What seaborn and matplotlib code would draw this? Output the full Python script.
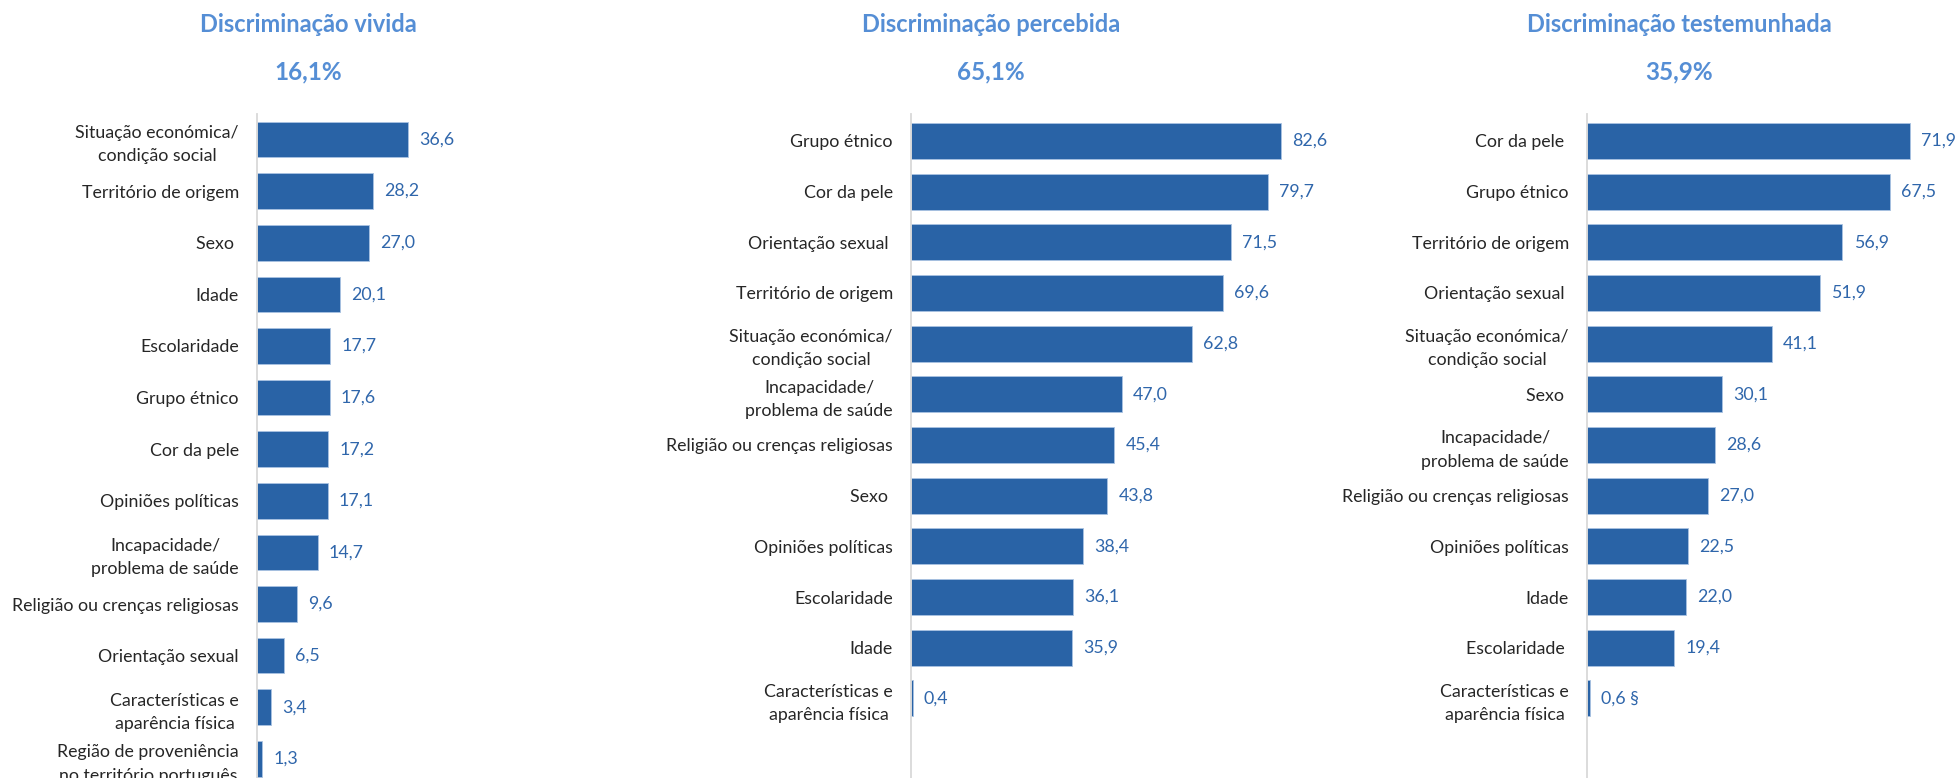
import matplotlib
matplotlib.use("Agg")
import matplotlib.pyplot as plt
import seaborn as sns
import pandas as pd

# ---------------- data ----------------
titulos = ["Discriminação vivida", "Discriminação percebida", "Discriminação testemunhada"]
totais = ["16,1%", "65,1%", "35,9%"]

cat_vivida = [
    "Situação económica/\ncondição social", "Território de origem", "Sexo ", "Idade",
    "Escolaridade", "Grupo étnico", "Cor da pele", "Opiniões políticas",
    "Incapacidade/\nproblema de saúde", "Religião ou crenças religiosas",
    "Orientação sexual", "Características e\naparência física",
    "Região de proveniência\nno território português",
]
val_vivida = [36.6, 28.2, 27.0, 20.1, 17.7, 17.6, 17.2, 17.1, 14.7, 9.6, 6.5, 3.4, 1.3]

cat_percebida = [
    "Grupo étnico", "Cor da pele", "Orientação sexual ", "Território de origem",
    "Situação económica/\ncondição social", "Incapacidade/\nproblema de saúde",
    "Religião ou crenças religiosas", "Sexo ", "Opiniões políticas", "Escolaridade",
    "Idade", "Características e\naparência física",
]
val_percebida = [82.6, 79.7, 71.5, 69.6, 62.8, 47.0, 45.4, 43.8, 38.4, 36.1, 35.9, 0.4]

cat_testemunhada = [
    "Cor da pele ", "Grupo étnico", "Território de origem", "Orientação sexual ",
    "Situação económica/\ncondição social", "Sexo ", "Incapacidade/\nproblema de saúde",
    "Religião ou crenças religiosas", "Opiniões políticas", "Idade", "Escolaridade ",
    "Características e\naparência física",
]
val_testemunhada = [71.9, 67.5, 56.9, 51.9, 41.1, 30.1, 28.6, 27.0, 22.5, 22.0, 19.4, 0.6]
sufixo_testemunhada = ["", "", "", "", "", "", "", "", "", "", "", " §"]

# ---------------- style ----------------
sns.set_theme(style="white")
plt.rcParams["font.family"] = ["Lato", "DejaVu Sans"]

W, H = 1957, 778
fig = plt.figure(figsize=(W / 100, H / 100), dpi=100)

BAR = "#2963A6"
LBL = "#2F66AB"
TIT = "#558ED5"
TXT = "#262626"

# (left px, px per unit, xmax, ylim bottom, ylim top, bar height, title centre px)
layout = [
    (257, 4.13, 60, 12.37, -0.494, 0.69, 308),
    (911, 4.48, 88, 12.57, -0.53, 0.71, 991),
    (1587, 4.49, 80, 12.57, -0.53, 0.71, 1679),
]
series = [
    (cat_vivida, val_vivida, [""] * len(val_vivida)),
    (cat_percebida, val_percebida, [""] * len(val_percebida)),
    (cat_testemunhada, val_testemunhada, sufixo_testemunhada),
]

ax_top_px = 114
for (left, ppu, xmax, yb, yt, bh, tc), (cats, vals, suf), tit, tot in zip(layout, series, titulos, totais):
    ax = fig.add_axes([left / W, 0, xmax * ppu / W, (H - ax_top_px) / H])
    df = pd.DataFrame({"categoria": cats, "valor": vals})
    sns.barplot(data=df, x="valor", y="categoria", ax=ax, color=BAR, orient="h",
                width=bh, edgecolor="#A9C2E2", linewidth=0.6, saturation=1)
    ax.set_xlim(0, xmax)
    ax.set_ylim(yb, yt)
    labels = [f"{v:.1f}".replace(".", ",") + s for v, s in zip(vals, suf)]
    ax.bar_label(ax.containers[0], labels=labels, padding=8, color=LBL, fontsize=12.8)
    ax.set_xlabel("")
    ax.set_ylabel("")
    ax.set_xticks([])
    ax.tick_params(axis="y", length=0, pad=13, labelsize=12.8, labelcolor=TXT)
    for t in ax.get_yticklabels():
        t.set_multialignment("center")
        t.set_linespacing(1.55)
    for s in ["top", "right", "bottom"]:
        ax.spines[s].set_visible(False)
    ax.spines["left"].set_color("#D9D9D9")
    ax.spines["left"].set_linewidth(1.3)
    fig.text(tc / W, 1 - 25 / H, tit, ha="center", va="center", color=TIT,
             fontsize=17, fontweight="bold")
    fig.text(tc / W, 1 - 72 / H, tot, ha="center", va="center", color=TIT,
             fontsize=17.5, fontweight="bold")

fig.savefig("out.png", dpi=100)
